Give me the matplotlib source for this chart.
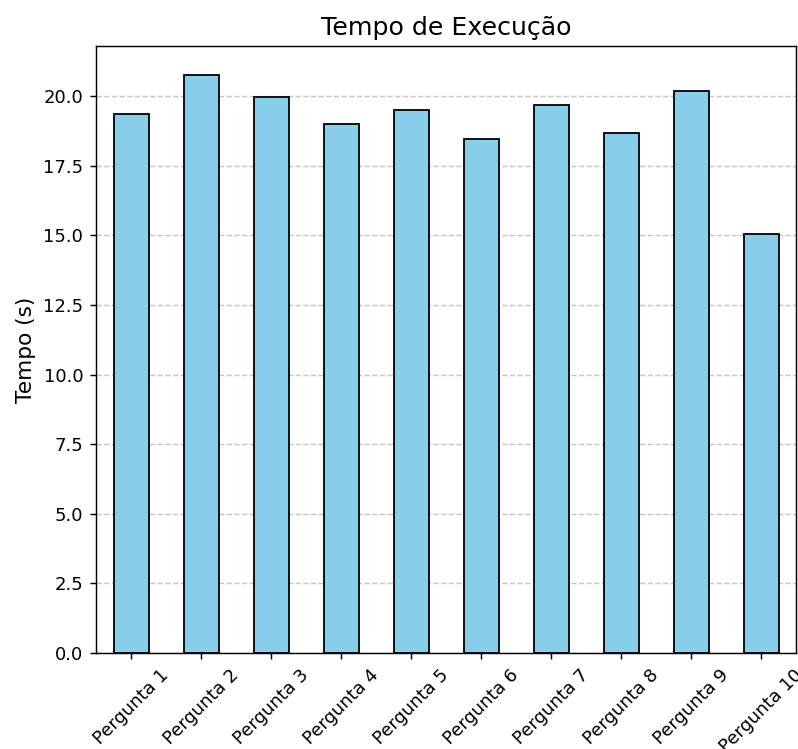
import matplotlib
matplotlib.use("Agg")
import matplotlib.pyplot as plt
import numpy as np

perguntas = ['Pergunta %d' % i for i in range(1, 11)]
tempos = [19.35, 20.76, 19.96, 18.99, 19.50, 18.45, 19.68, 18.67, 20.18, 15.06]

DPI = 130
fig = plt.figure(figsize=(798 / DPI, 749 / DPI), dpi=DPI)
ax = fig.add_axes([96 / 798, 1 - 653 / 749, 700 / 798, 607 / 749])

x = np.arange(len(perguntas))
ax.bar(x, tempos, width=0.5, color='skyblue', edgecolor='black', zorder=2)
ax.set_xlim(-0.5, len(perguntas) - 0.5)
ax.set_xticks(x)
ax.set_xticklabels(perguntas, rotation=45)

ax.set_title('Tempo de Execução', fontsize=14)
ax.set_ylabel('Tempo (s)', fontsize=12)
ax.grid(axis='y', linestyle='--', alpha=0.7, zorder=0)

fig.savefig('out.png', dpi=DPI)
